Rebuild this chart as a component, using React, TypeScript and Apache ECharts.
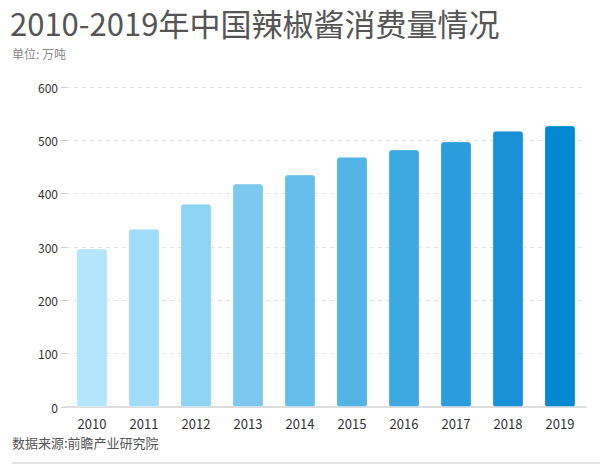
import React, { useEffect, useRef } from "react";
import * as echarts from "echarts";

const years = ["2010", "2011", "2012", "2013", "2014", "2015", "2016", "2017", "2018", "2019"];
const consumption = [297, 334, 381, 419, 436, 469, 483, 498, 518, 528];
const barColors = ["#b3e5fc", "#a1dcf8", "#8fd3f4", "#7cc8ef", "#66bde9", "#53b3e5", "#40a8e1", "#2c9cdc", "#1990d6", "#0288d1"];
const titleText = "2010-2019年中国辣椒酱消费量情况";
const unitText = "单位: 万吨";
const sourceText = "数据来源:前瞻产业研究院";

const FONT = "'Noto Sans CJK SC', 'Noto Sans', sans-serif";

export default function App() {
  const ref = useRef<HTMLDivElement>(null);
  useEffect(() => {
    if (!ref.current) return;
    const chart = echarts.init(ref.current, null, { renderer: "svg" });
    chart.setOption({
      animation: false,
      backgroundColor: "#ffffff",
      textStyle: { fontFamily: FONT },
      graphic: [
        { type: "text", left: 10, top: 7, style: { text: titleText, font: `31px ${FONT}`, lineHeight: 31, fill: "#555555" } },
        { type: "text", left: 12, top: 47, style: { text: unitText, font: `12px ${FONT}`, lineHeight: 13, fill: "#888888" } },
        { type: "text", left: 12, top: 436, style: { text: sourceText, font: `13px ${FONT}`, fill: "#555555" } },
        { type: "rect", left: 12, top: 462, shape: { width: 588, height: 2 }, style: { fill: "#e2e2e2" } },
      ],
      grid: { left: 66, right: 14, top: 87, bottom: 58 },
      xAxis: {
        type: "category",
        data: years,
        axisLine: { lineStyle: { color: "#dddddd", width: 2 } },
        axisTick: { alignWithLabel: true, length: 5, lineStyle: { color: "#cccccc" } },
        axisLabel: { color: "#333333", fontSize: 13, margin: 10, fontFamily: FONT },
      },
      yAxis: {
        type: "value",
        min: 0,
        max: 600,
        interval: 100,
        axisLine: { show: false },
        axisTick: { show: true, length: 5, lineStyle: { color: "#cccccc" } },
        axisLabel: { color: "#333333", fontSize: 12, margin: 8, fontFamily: FONT },
        splitLine: { lineStyle: { color: "#e6e6e6", type: [4, 4] } },
      },
      series: [
        {
          type: "bar",
          barWidth: "60%",
          data: consumption.map((v, i) => ({
            value: v,
            itemStyle: {
              color: barColors[i],
              borderRadius: [3, 3, 2, 2],
              borderColor: "rgba(255,255,255,0.35)",
              borderWidth: 1,
            },
          })),
        },
      ],
    });
    return () => chart.dispose();
  }, []);
  return <div ref={ref} style={{ width: 600, height: 465, position: "absolute", left: 0, top: 0 }} />;
}
